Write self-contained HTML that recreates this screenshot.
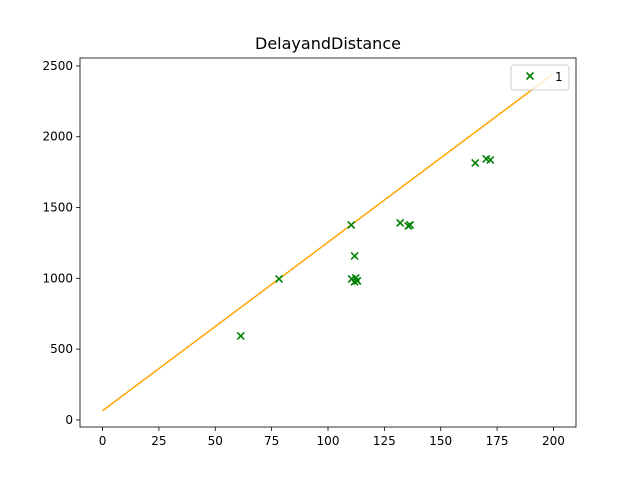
<!DOCTYPE html>
<html><head><meta charset="utf-8"><style>
body{margin:0;background:#fff;font-family:"Liberation Sans","DejaVu Sans",sans-serif}
svg text{font-family:"DejaVu Sans","Liberation Sans",sans-serif}
</style></head><body>
<svg id="c" width="640" height="480"></svg>
<script>
const xs=[61.3,78.3,110.3,111.8,110.5,112.3,113,111.8,132,135.6,136.4,165.3,170.2,172];
const ys=[593,996,1377,1158,996,1003,982,975,1391,1370,1377,1815,1843,1836];
const lineX=[0,200];
const lineIntercept=65, lineSlope=11.9;
const xTicks=[0,25,50,75,100,125,150,175,200];
const yTicks=[0,500,1000,1500,2000,2500];
const L=80,R=576,T=58,B=427;
const xmin=-10,xmax=210,ymin=-50,ymax=2556;
const X=v=>L+(v-xmin)/(xmax-xmin)*(R-L);
const Y=v=>B-(v-ymin)/(ymax-ymin)*(B-T);
const s=document.getElementById('c');const NS='http://www.w3.org/2000/svg';
function mk(t,a,p){const e=document.createElementNS(NS,t);for(const k in a)e.setAttribute(k,a[k]);(p||s).appendChild(e);return e;}
let e=mk('text',{x:328,y:49,'text-anchor':'middle','font-size':16,fill:'#000'});e.textContent='DelayandDistance';


xTicks.forEach(v=>{const g=mk('g',{});


mk('line',{x1:X(v),x2:X(v),y1:B,y2:B+4,stroke:'#000','stroke-width':0.8},g);
const t=mk('text',{x:X(v),y:B+18,'text-anchor':'middle','font-size':12},g);t.textContent=v;});
yTicks.forEach(v=>{const g=mk('g',{});


mk('line',{x1:L-4,x2:L,y1:Y(v),y2:Y(v),stroke:'#000','stroke-width':0.8},g);
const t=mk('text',{x:L-7,y:Y(v)+4,'text-anchor':'end','font-size':12},g);t.textContent=v;});
e=mk('line',{x1:X(lineX[0]),y1:Y(lineIntercept+lineSlope*lineX[0]),x2:X(lineX[1]),y2:Y(lineIntercept+lineSlope*lineX[1]),stroke:'orange','stroke-width':1.5});


function cross(cx,cy,p){mk('path',{d:`M${cx-3.5},${cy-3.5}L${cx+3.5},${cy+3.5}M${cx-3.5},${cy+3.5}L${cx+3.5},${cy-3.5}`,stroke:'green','stroke-width':1.6,fill:'none'},p);}
xs.forEach((v,i)=>{const g=mk('g',{});


cross(X(v),Y(ys[i]),g);});
e=mk('rect',{x:L,y:T,width:R-L,height:B-T,fill:'none',stroke:'#000','stroke-width':0.8});


const lg=mk('g',{});


mk('rect',{x:511,y:65,width:58,height:25,rx:3,fill:'rgba(255,255,255,0.8)',stroke:'#ccc'},lg);
cross(530,76,lg);
e=mk('text',{x:555,y:81,'font-size':12},lg);e.textContent='1';
</script>
</body></html>
